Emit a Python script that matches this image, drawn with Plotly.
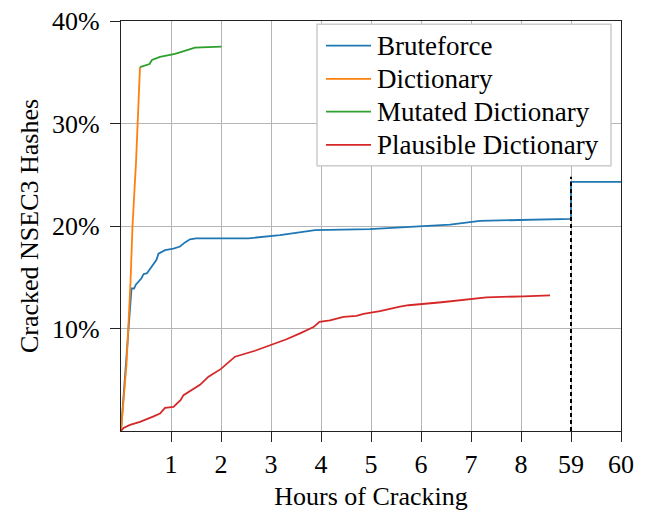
import plotly.graph_objects as go

# x values are positions on the broken axis (0..8 hours, then 9 -> 59 h, 10 -> 60 h)
x_tickvals = [1, 2, 3, 4, 5, 6, 7, 8, 9, 10]
x_ticktext = ["1", "2", "3", "4", "5", "6", "7", "8", "59", "60"]
y_tickvals = [10, 20, 30, 40]
y_ticktext = ["10%", "20%", "30%", "40%"]

brute_x = [0, 0.1, 0.21, 0.26, 0.3, 0.41, 0.45, 0.52, 0.62, 0.71, 0.75, 0.88, 1.05, 1.18, 1.28, 1.38, 1.5,
           2.55, 3.18, 3.88, 4.98, 5.98, 6.58, 7.18, 8.0, 9.0, 9.0, 10.0]
brute_y = [0, 6.5, 13.9, 13.9, 14.3, 14.9, 15.3, 15.4, 16.1, 16.7, 17.3, 17.65, 17.8, 18.0, 18.4, 18.7, 18.8,
           18.8, 19.1, 19.6, 19.7, 20.0, 20.13, 20.5, 20.6, 20.7, 24.3, 24.3]

dict_x = [0, 0.11, 0.19, 0.23, 0.30, 0.38]
dict_y = [0, 6.5, 14.5, 20.0, 26.2, 35.5]

mut_x = [0.38, 0.57, 0.62, 0.78, 1.08, 1.48, 2.01]
mut_y = [35.5, 35.8, 36.2, 36.5, 36.8, 37.4, 37.5]

plaus_x = [0, 0.05, 0.18, 0.38, 0.64, 0.78, 0.88, 1.05, 1.19, 1.25, 1.58, 1.75, 2.0, 2.28, 2.68, 3.0, 3.31,
           3.58, 3.85, 3.97, 4.18, 4.45, 4.71, 4.85, 5.18, 5.58, 5.75, 6.41, 7.01, 7.31, 8.05, 8.58]
plaus_y = [0, 0.3, 0.6, 0.9, 1.4, 1.7, 2.25, 2.35, 3.0, 3.5, 4.5, 5.3, 6.06, 7.25, 7.83, 8.4, 8.95,
           9.53, 10.14, 10.66, 10.79, 11.14, 11.24, 11.43, 11.69, 12.14, 12.27, 12.56, 12.85, 13.04, 13.14, 13.24]

break_x = [9, 9]
break_y = [0, 24.8]

series_names = ["Bruteforce", "Dictionary", "Mutated Dictionary", "Plausible Dictionary"]
series_colors = ["#1f77b4", "#ff7f0e", "#2ca02c", "#d62728"]
series_x = [brute_x, dict_x, mut_x, plaus_x]
series_y = [brute_y, dict_y, mut_y, plaus_y]

FONT = "Liberation Serif"

fig = go.Figure()
for name, color, xs, ys in zip(series_names, series_colors, series_x, series_y):
    fig.add_trace(go.Scatter(x=xs, y=ys, mode="lines", name=name, showlegend=False,
                             line=dict(color=color, width=1.8)))
fig.add_trace(go.Scatter(x=break_x, y=break_y, mode="lines", showlegend=False,
                         line=dict(color="black", width=2, dash="4px,3px"), hoverinfo="skip"))

# legend box (paper coordinates), drawn as shapes + text annotations
leg_x0, leg_x1 = 0.392, 0.98
leg_y0, leg_y1 = 0.647, 0.992
leg_rows = [0.94, 0.859, 0.779, 0.698]
shapes = [dict(type="rect", xref="paper", yref="paper", x0=leg_x0, x1=leg_x1, y0=leg_y0, y1=leg_y1,
               line=dict(color="#cccccc", width=1.5), fillcolor="white", layer="above")]
annotations = []
for name, color, ry in zip(series_names, series_colors, leg_rows):
    shapes.append(dict(type="line", xref="paper", yref="paper", x0=0.41, x1=0.50, y0=ry, y1=ry,
                       line=dict(color=color, width=1.8), layer="above"))
    annotations.append(dict(xref="paper", yref="paper", x=0.508, y=ry, xanchor="left", yanchor="middle",
                            text=name, showarrow=False, font=dict(family=FONT, size=27, color="black")))

fig.update_layout(
    width=649, height=515,
    margin=dict(l=113, r=36, t=13, b=92),
    paper_bgcolor="white", plot_bgcolor="white",
    font=dict(family=FONT, size=26, color="black"),
    showlegend=False,
    shapes=shapes, annotations=annotations,
    xaxis=dict(range=[0, 10], tickvals=x_tickvals, ticktext=x_ticktext,
               showgrid=True, gridcolor="#b5b5b5", gridwidth=1,
               showline=True, linecolor="#222222", linewidth=1.3, mirror=True,
               ticks="outside", ticklen=10, tickcolor="#222222",
               zeroline=False, automargin=False, ticklabeloverflow="allow",
               title=dict(text="Hours of Cracking", font=dict(size=26), standoff=8)),
    yaxis=dict(range=[0, 40], tickvals=y_tickvals, ticktext=y_ticktext,
               showgrid=True, gridcolor="#b5b5b5", gridwidth=1,
               showline=True, linecolor="#222222", linewidth=1.3, mirror=True,
               ticks="outside", ticklen=10, tickcolor="#222222", ticklabelstandoff=5,
               zeroline=False, automargin=False, ticklabeloverflow="allow",
               title=dict(text="Cracked NSEC3 Hashes", font=dict(size=26), standoff=5)),
)

fig.write_html("out.html")
